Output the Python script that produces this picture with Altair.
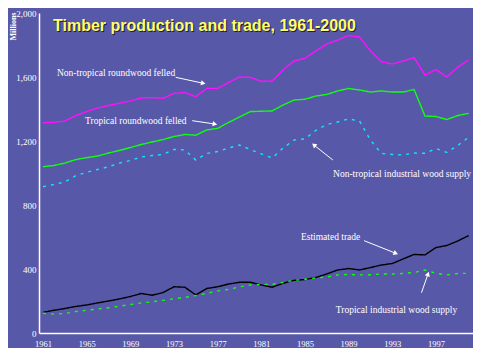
import math
import altair as alt
import pandas as pd

# ---------------- data (millions of m3) ----------------
years = list(range(1961, 2001))

nontrop_round = [1314, 1317, 1325, 1359, 1384, 1406, 1422, 1436, 1450, 1469,
                 1471, 1467, 1498, 1502, 1477, 1529, 1529, 1566, 1600, 1598,
                 1573, 1575, 1644, 1700, 1717, 1763, 1806, 1831, 1859, 1850,
                 1763, 1696, 1681, 1700, 1721, 1612, 1647, 1600, 1662, 1706]

trop_round = [1039, 1047, 1062, 1084, 1096, 1106, 1125, 1141, 1159, 1178,
              1194, 1209, 1228, 1241, 1236, 1269, 1279, 1316, 1350, 1384,
              1386, 1388, 1425, 1456, 1461, 1481, 1491, 1513, 1528, 1519,
              1506, 1513, 1506, 1506, 1522, 1356, 1353, 1334, 1359, 1373]

nontrop_ind = [914, 928, 944, 984, 1004, 1022, 1039, 1062, 1078, 1100,
               1109, 1116, 1147, 1144, 1081, 1122, 1134, 1156, 1175, 1147,
               1119, 1094, 1156, 1206, 1213, 1266, 1303, 1319, 1338, 1325,
               1206, 1122, 1116, 1113, 1125, 1123, 1153, 1129, 1172, 1223]

trade = [129, 142, 153, 166, 175, 188, 200, 213, 228, 247,
         236, 253, 289, 286, 238, 278, 289, 306, 317, 317,
         300, 286, 311, 329, 334, 347, 369, 394, 403, 394,
         409, 425, 434, 463, 491, 488, 534, 547, 575, 609]

trop_ind = [123, 118, 122, 134, 142, 150, 158, 167, 178, 188,
            195, 204, 214, 222, 234, 248, 263, 272, 288, 300,
            304, 304, 316, 329, 336, 344, 350, 363, 366, 363,
            364, 369, 369, 372, 378, 394, 373, 363, 372, 373]

series_names = ["Non-tropical roundwood felled", "Tropical roundwood felled",
                "Non-tropical industrial wood supply", "Estimated trade",
                "Tropical industrial wood supply"]
series_values = [nontrop_round, trop_round, nontrop_ind, trade, trop_ind]
series_colors = ["#ff10ff", "#10ff10", "#10e8f8", "#000000", "#10ff10"]
series_dash = [[1, 0], [1, 0], [3, 5], [1, 0], [3, 5]]

x_ticks = [1961, 1965, 1969, 1973, 1977, 1981, 1985, 1989, 1993, 1997]
y_ticks = [0, 400, 800, 1200, 1600, 2000]

title_text = "Timber production and trade, 1961-2000"

# annotation labels and arrows (data coordinates)
ann_text = series_names
ann_year = [1962.28, 1964.85, 1987.58, 1984.63, 1987.83]
ann_value = [1628, 1327, 994, 598, 144]
arr_year1 = [1973.15, 1974.67, 1987.56, 1990.42, 1995.68]
arr_value1 = [1598, 1327, 1081, 577, 252]
arr_year2 = [1975.68, 1976.75, 1985.82, 1993.33, 1996.28]
arr_value2 = [1561, 1306, 1175, 498, 369]

# ---------------- tables ----------------
rows = []
for name, vals in zip(series_names, series_values):
    for yr, v in zip(years, vals):
        rows.append({"year": yr, "value": v, "series": name})
df = pd.DataFrame(rows)

px_per_year = 10.92
px_per_unit = 320 / 2000.0
angles = []
for a1, v1, a2, v2 in zip(arr_year1, arr_value1, arr_year2, arr_value2):
    dx = (a2 - a1) * px_per_year
    dy = -(v2 - v1) * px_per_unit
    angles.append(math.degrees(math.atan2(dx, -dy)) % 360)

ann = pd.DataFrame({"label": ann_text, "year": ann_year, "value": ann_value})
arr = pd.DataFrame({"year": arr_year1, "value": arr_value1,
                    "year2": arr_year2, "value2": arr_value2, "angle": angles})
head = pd.DataFrame({"year": arr_year2, "value": arr_value2, "angle": angles})
ttl = pd.DataFrame({"t": [title_text]})

serif = "Liberation Serif"

x_enc = alt.X("year:Q",
              scale=alt.Scale(domain=[1960.63, 2000.4], nice=False, zero=False),
              axis=alt.Axis(values=x_ticks, format="d", title=None, grid=False,
                            ticks=False, labelPadding=6, labelFont=serif,
                            labelFontSize=8.5, labelColor="white",
                            domainColor="white", domainWidth=1.5,
                            labelFlush=False))
y_enc = alt.Y("value:Q",
              scale=alt.Scale(domain=[0, 2000], nice=False),
              axis=alt.Axis(values=y_ticks, format=",.0f", title="Millions",
                            grid=False, ticks=False, labelPadding=3,
                            labelFont=serif, labelFontSize=9,
                            labelColor="white", domainColor="white",
                            domainWidth=1.5, titleFont=serif, titleFontSize=8,
                            titleFontWeight="bold", titleColor="white",
                            titleAngle=270, titleAlign="right",
                            titleBaseline="middle", titleX=-26, titleY=-1))

lines = alt.Chart(df).mark_line(strokeWidth=1.4, interpolate="linear").encode(
    x=x_enc,
    y=y_enc,
    color=alt.Color("series:N", scale=alt.Scale(domain=series_names, range=series_colors), legend=None),
    strokeDash=alt.StrokeDash("series:N", scale=alt.Scale(domain=series_names, range=series_dash), legend=None),
    detail="series:N",
)

labels = alt.Chart(ann).mark_text(align="left", baseline="middle", font=serif,
                                  fontSize=9.5, color="white").encode(
    x="year:Q", y="value:Q", text="label:N")

arrows = alt.Chart(arr).mark_rule(color="white", strokeWidth=1).encode(
    x="year:Q", y="value:Q", x2="year2:Q", y2="value2:Q")

heads = alt.Chart(head).mark_point(shape="triangle-up", filled=True, color="white",
                                   size=28, opacity=1).encode(
    x="year:Q", y="value:Q", angle=alt.Angle("angle:Q", scale=None))

title_shadow = alt.Chart(ttl).mark_text(align="left", baseline="alphabetic",
                                        font="Liberation Sans", fontSize=16,
                                        fontWeight="bold", color="#1a1a40").encode(
    x=alt.value(15), y=alt.value(19), text="t:N")
title_main = alt.Chart(ttl).mark_text(align="left", baseline="alphabetic",
                                      font="Liberation Sans", fontSize=16,
                                      fontWeight="bold", color="#ffff66").encode(
    x=alt.value(14), y=alt.value(18), text="t:N")

chart = alt.layer(lines, arrows, heads, labels, title_shadow, title_main).properties(
    width=434, height=320,
    autosize=alt.AutoSizeParams(type="none"),
    padding={"left": 31, "top": 5, "right": 0, "bottom": 15},
    background="#5858a8",
).configure_view(stroke=None)

chart.save("out.html", embed_options={"renderer": "svg", "actions": False})
